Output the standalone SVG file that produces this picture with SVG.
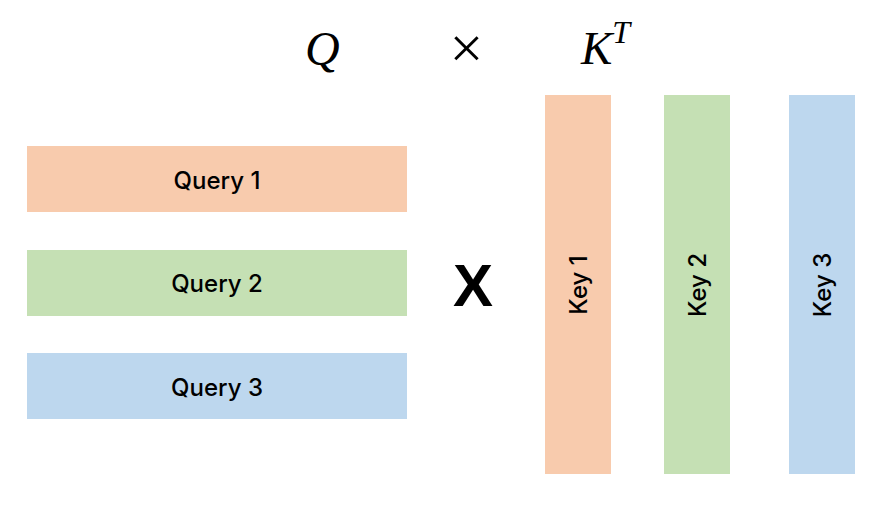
<svg xmlns="http://www.w3.org/2000/svg" width="891" height="528" viewBox="0 0 891 528">
<style>
.lbl{font-family:Inter,"Liberation Sans",Arial,sans-serif;font-weight:500;font-size:24px;fill:#000;text-anchor:middle}
.math{font-family:"Liberation Serif","Times New Roman",serif;font-style:italic;fill:#000}
.o{fill:#F8CBAD}.g{fill:#C5E0B4}.b{fill:#BDD7EE}
</style>
<rect width="891" height="528" fill="#fff"/>
<g id="labels">
<text class="math" x="305" y="65" font-size="48">Q</text>
<text x="466.5" y="68" font-family="Liberation Serif,serif" font-size="60" text-anchor="middle">×</text>
<text class="math" x="581" y="64" font-size="47">K<tspan font-size="32" dy="-21">T</tspan></text>
</g>
<g id="query1"><rect class="o" x="27" y="146" width="380" height="66"/><text class="lbl" x="217" y="189">Query 1</text></g>
<g id="query2"><rect class="g" x="27" y="250" width="380" height="66"/><text class="lbl" x="217" y="292">Query 2</text></g>
<g id="query3"><rect class="b" x="27" y="353" width="380" height="66"/><text class="lbl" x="217" y="396">Query 3</text></g>
<g id="times"><text x="473" y="306" font-family="Liberation Sans,Arial,sans-serif" font-weight="bold" font-size="60" text-anchor="middle">X</text></g>
<g id="key1"><rect class="o" x="545" y="95" width="66" height="379"/><text class="lbl" transform="translate(587,285) rotate(-90)">Key 1</text></g>
<g id="key2"><rect class="g" x="664" y="95" width="66" height="379"/><text class="lbl" transform="translate(706,285) rotate(-90)">Key 2</text></g>
<g id="key3"><rect class="b" x="789" y="95" width="66" height="379"/><text class="lbl" transform="translate(831,285) rotate(-90)">Key 3</text></g>
<g id="connectors"/>
</svg>
